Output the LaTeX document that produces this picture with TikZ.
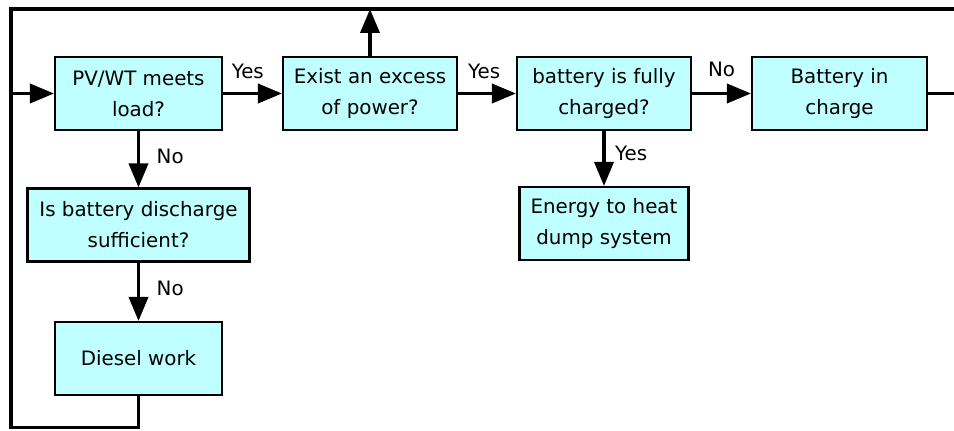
\documentclass[tikz,border=0pt]{standalone}
\usepackage{fontspec}
\setmainfont{DejaVu Sans}
\usepackage{xcolor}
\usetikzlibrary{calc,arrows.meta,positioning}
\definecolor{BoxCyan}{RGB}{192, 255, 255}

\begin{document}
\begin{tikzpicture}[>={Triangle[length=4.8mm, width=3.8mm]},
  font=\fontsize{11.3}{17.6}\selectfont,
  blk/.style={draw=black, line width=1.15pt, fill=BoxCyan,
              align=center, inner sep=3pt, minimum height=1.46cm},
  sig/.style={->, line width=2pt},
  wire/.style={line width=2pt},
  lab/.style={font=\fontsize{11.3}{13}\selectfont}]

  \useasboundingbox (0,0) rectangle (19.08,8.6);

  \node[blk, minimum width=3.34cm] (pv)   at (2.77,6.73)  {PV/WT meets\\load?};
  \node[blk, minimum width=3.48cm] (exc)  at (7.40,6.73)  {Exist an excess\\of power?};
  \node[blk, minimum width=3.48cm] (full) at (12.08,6.73) {battery is fully\\charged?};
  \node[blk, minimum width=3.50cm] (chg)  at (16.79,6.73) {Battery in\\charge};
  \node[blk, minimum width=4.44cm] (dis)  at (2.77,4.10)  {Is battery discharge\\sufficient?};
  \node[blk, minimum width=3.34cm] (dsl)  at (2.77,1.43)  {Diesel work};
  \node[blk, minimum width=3.38cm] (heat) at (12.08,4.13) {Energy to heat\\dump system};

  \coordinate (tl)   at (0.22,8.42);
  \coordinate (bl)   at (0.22,0.05);
  \coordinate (tr)   at (19.08,8.42);
  \coordinate (rout) at (19.08,6.73);

  % main row
  \draw[sig] (pv)   -- node[lab, above=4pt, pos=0.42]{Yes} (exc);
  \draw[sig] (exc)  -- node[lab, above=4pt, pos=0.45]{Yes} (full);
  \draw[sig] (full) -- node[lab, above=5pt]{No} (chg);
  \draw[wire] (chg) -- (rout);

  % branches down
  \draw[sig] (pv)   -- node[lab, right=6pt, pos=0.45]{No} (dis);
  \draw[sig] (dis)  -- node[lab, right=6pt, pos=0.45]{No} (dsl);
  \draw[sig] (full) -- node[lab, right=2pt, pos=0.4]{Yes} (heat);

  % feedback loop
  \draw[wire] (dsl.south) -- (dsl.south |- bl) -- (bl) -- (tl) -- (tr);
  \draw[sig] (tl |- pv) -- (pv.west);
  \draw[sig] (exc.north) -- (exc.north |- tl);
\end{tikzpicture}
\end{document}
